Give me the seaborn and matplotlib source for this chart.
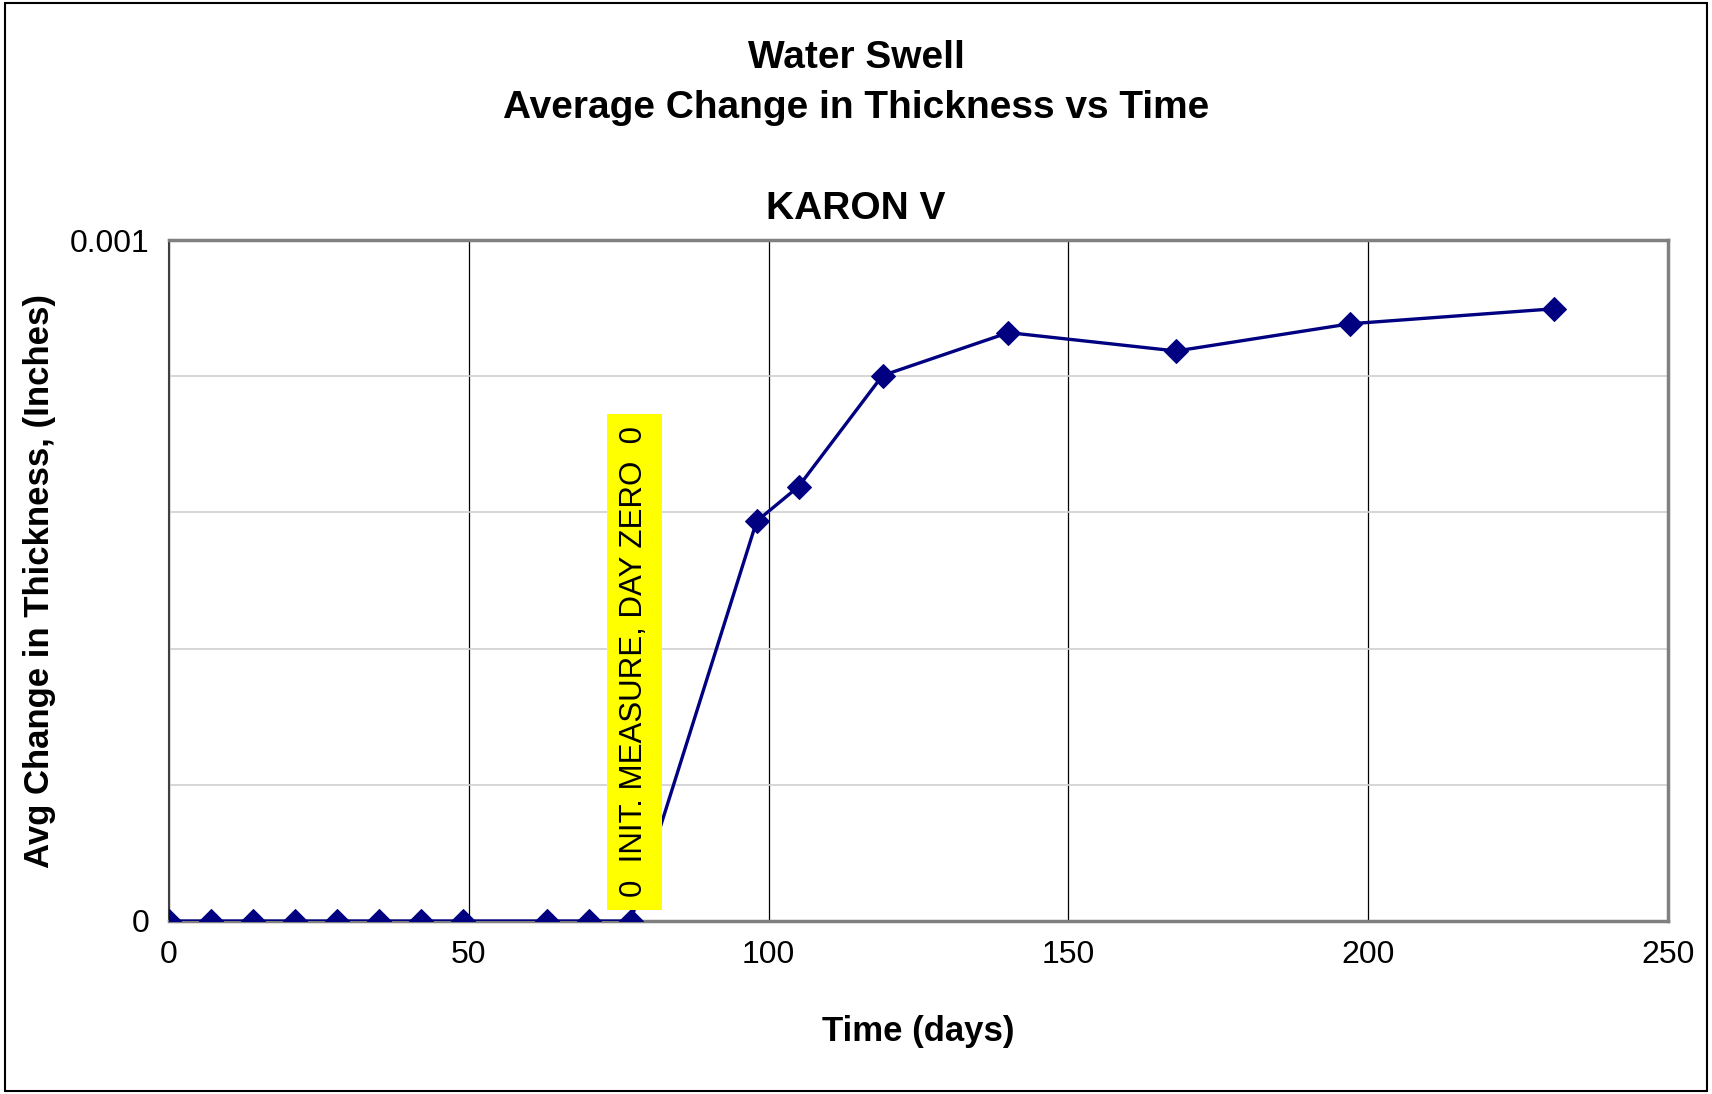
import matplotlib
matplotlib.use("Agg")
import matplotlib.pyplot as plt
import seaborn as sns
import pandas as pd
from matplotlib.ticker import MultipleLocator, FixedLocator, NullFormatter

# 数据
days = [0, 7, 14, 21, 28, 35, 42, 49, 63, 70, 77, 98, 105, 119, 140, 168, 197, 231]
avg_change = [0, 0, 0, 0, 0, 0, 0, 0, 0, 0, 0,
              0.000587, 0.000638, 0.000801, 0.000864, 0.000837, 0.000877, 0.000899]
note_day = 77
note_text = "0  INIT. MEASURE, DAY ZERO  0"

sns.set_style("white")
plt.rcParams['font.family'] = ['Liberation Sans', 'DejaVu Sans']
plt.rcParams['text.color'] = 'black'
plt.rcParams['axes.labelcolor'] = 'black'
plt.rcParams['xtick.color'] = 'black'
plt.rcParams['ytick.color'] = 'black'


def main() -> None:
    df = pd.DataFrame({"day": days, "change": avg_change})

    fig = plt.figure(figsize=(17.12, 10.94), dpi=100)
    ax = fig.add_axes([169 / 1712, 1 - 921 / 1094, 1499 / 1712, 681 / 1094])

    sns.lineplot(data=df, x="day", y="change", ax=ax, color="#000080",
                 marker="D", markersize=12, markeredgecolor="#000080",
                 linewidth=2.4, zorder=3)

    ax.set_xlim(0, 250)
    ax.set_ylim(0, 0.001)
    ax.xaxis.set_major_locator(MultipleLocator(50))
    ax.yaxis.set_major_locator(FixedLocator([0, 0.001]))
    ax.yaxis.set_minor_locator(MultipleLocator(0.0002))
    ax.yaxis.set_minor_formatter(NullFormatter())
    ax.set_yticklabels(["0", "0.001"])

    ax.grid(True, axis="x", which="major", color="black", linewidth=0.9)
    ax.grid(True, axis="y", which="minor", color="#d0d0d0", linewidth=1.2)
    ax.set_axisbelow(True)

    for s in ax.spines.values():
        s.set_color("#808080")
        s.set_linewidth(2.5)
    ax.spines["left"].set_color("#404040")
    ax.spines["left"].set_linewidth(1.5)

    ax.tick_params(axis="both", which="major", direction="out", length=6,
                   width=1.2, color="#404040", labelsize=23, pad=8)
    ax.tick_params(axis="y", which="minor", length=0)

    ax.set_xlabel("Time (days)", fontsize=25, fontweight="bold", labelpad=32)
    ax.set_ylabel("Avg Change in Thickness, (Inches)", fontsize=25,
                  fontweight="bold", labelpad=10)

    ax.annotate(note_text, xy=(note_day, 0), xytext=(2.5, 17),
                textcoords="offset points", rotation=90, ha="center", va="bottom",
                fontsize=22.5, zorder=5,
                bbox=dict(boxstyle="square,pad=0.4", facecolor="#ffff00",
                          edgecolor="none"))

    fig.text(0.5, 1 - 58 / 1094, "Water Swell", ha="center", va="center",
             fontsize=28, fontweight="bold")
    fig.text(0.5, 1 - 108 / 1094, "Average Change in Thickness vs Time",
             ha="center", va="center", fontsize=28, fontweight="bold")
    fig.text(0.5, 1 - 209 / 1094, "KARON V", ha="center", va="center",
             fontsize=28, fontweight="bold")

    # 外框
    fig.patches.append(plt.Rectangle((0.003, 0.003), 0.994, 0.994,
                                     transform=fig.transFigure, fill=False,
                                     edgecolor="black", linewidth=1.5))

    fig.savefig("out.png", dpi=100)


if __name__ == "__main__":
    main()
